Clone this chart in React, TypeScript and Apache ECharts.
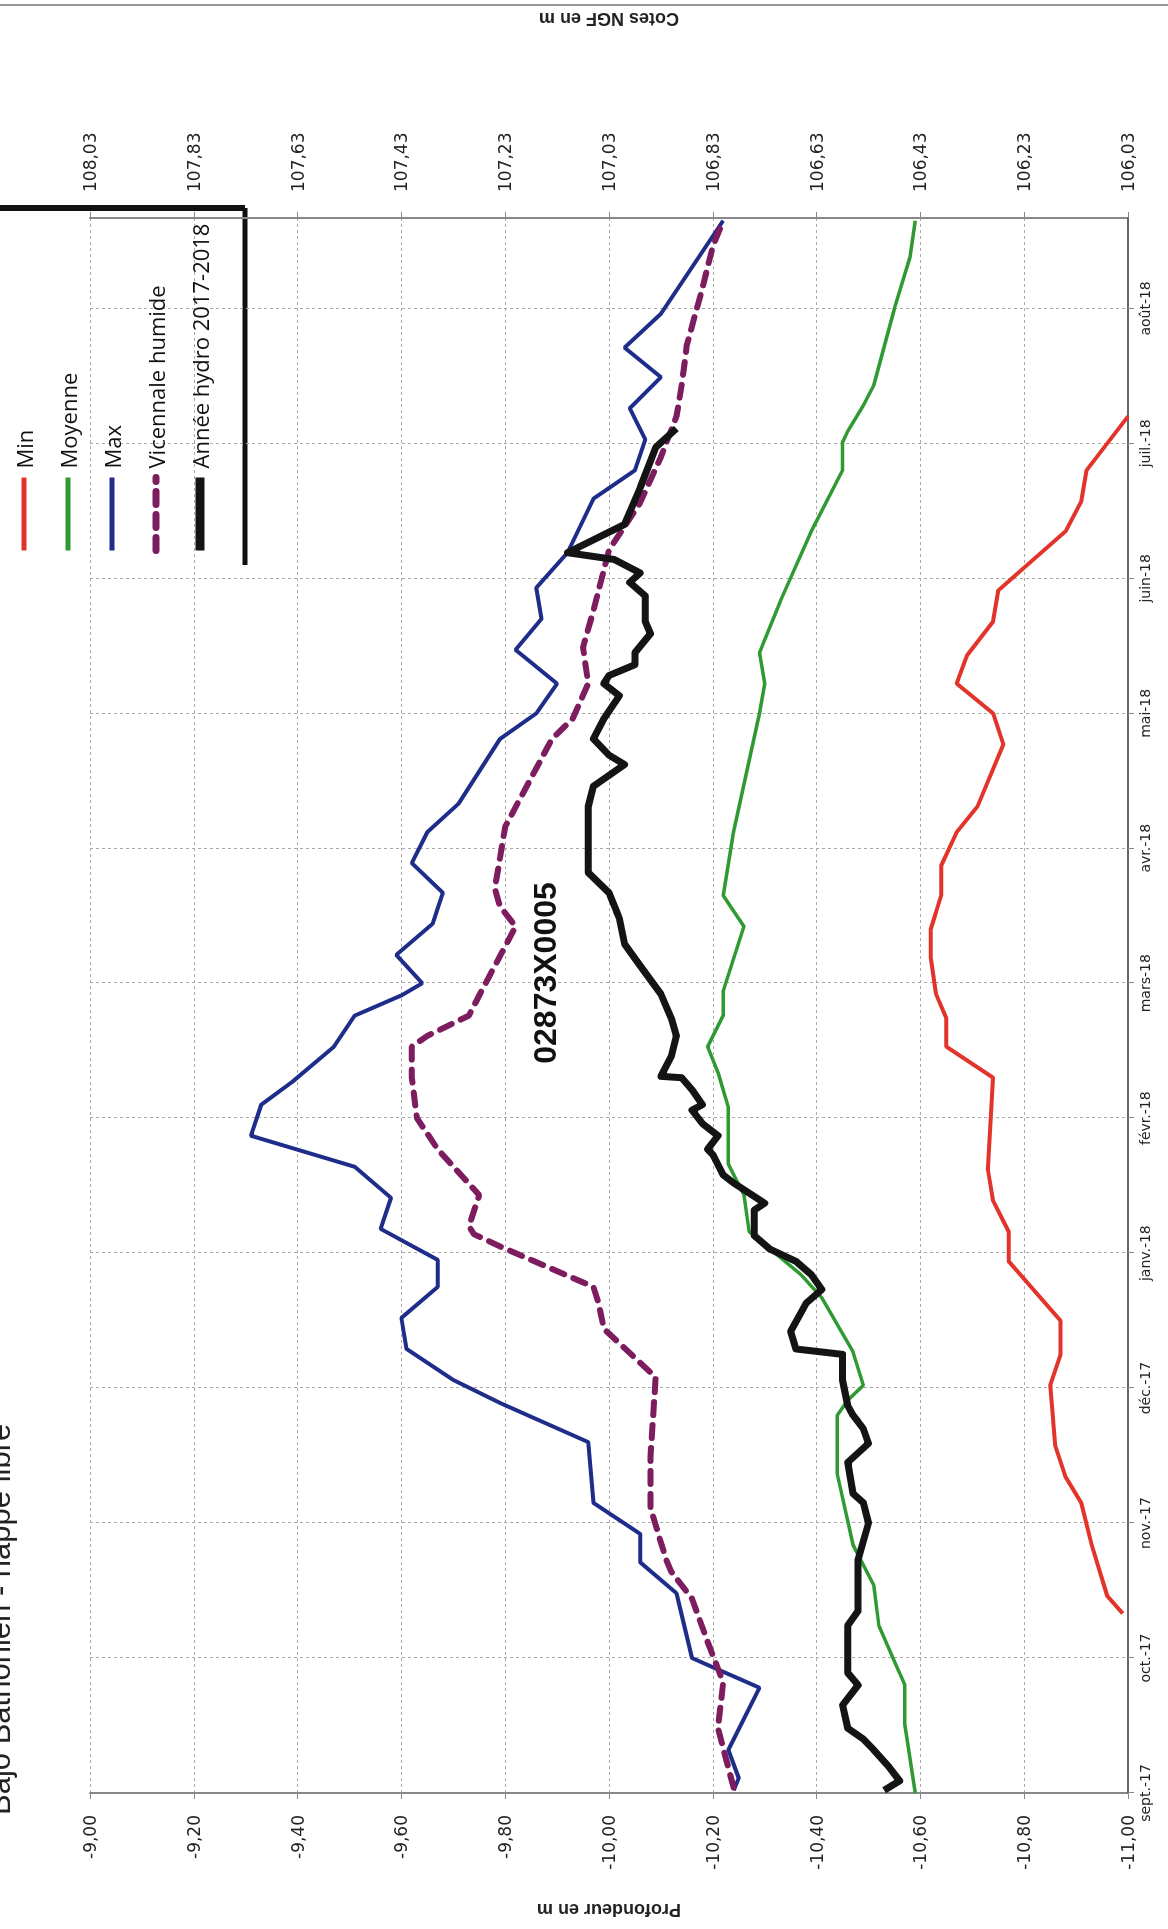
import { useEffect, useRef } from 'react';
import * as echarts from 'echarts';

// the scanned page is rotated: the chart is drawn upright and the div is turned -90deg
const W = 1929;
const H = 1168;

const months = ['sept.-17', 'oct.-17', 'nov.-17', 'déc.-17', 'janv.-18', 'févr.-18', 'mars-18', 'avr.-18', 'mai-18', 'juin-18', 'juil.-18', 'août-18'];

// [month index from 1 sept 2017, depth in m]
const minData = [[1.33,-10.99],[1.46,-10.96],[1.84,-10.93],[2.15,-10.91],[2.34,-10.88],[2.57,-10.86],[3.02,-10.85],[3.25,-10.87],[3.5,-10.87],[3.94,-10.77],[4.16,-10.77],[4.39,-10.74],[4.62,-10.73],[5.3,-10.74],[5.53,-10.65],[5.74,-10.65],[5.92,-10.63],[6.19,-10.62],[6.4,-10.62],[6.65,-10.64],[6.87,-10.64],[7.12,-10.67],[7.31,-10.71],[7.77,-10.76],[8.0,-10.74],[8.22,-10.67],[8.43,-10.69],[8.68,-10.74],[8.91,-10.75],[9.08,-10.8],[9.35,-10.88],[9.57,-10.91],[9.8,-10.92],[10.2,-11.0]];

const moyData = [[0,-10.59],[0.51,-10.57],[0.8,-10.57],[1.24,-10.52],[1.54,-10.51],[1.84,-10.47],[2.36,-10.44],[2.8,-10.44],[2.91,-10.46],[3.02,-10.49],[3.27,-10.47],[3.67,-10.41],[3.84,-10.37],[4.16,-10.27],[4.43,-10.26],[4.66,-10.23],[5.08,-10.23],[5.34,-10.21],[5.53,-10.19],[5.76,-10.22],[5.94,-10.22],[6.42,-10.26],[6.65,-10.22],[7.12,-10.24],[8.0,-10.29],[8.22,-10.3],[8.45,-10.29],[8.83,-10.33],[9.35,-10.39],[9.8,-10.45],[10.01,-10.45],[10.09,-10.46],[10.28,-10.49],[10.43,-10.51],[11.0,-10.55],[11.38,-10.58],[11.65,-10.59]];

const maxData = [[0.02,-10.24],[0.11,-10.25],[0.32,-10.23],[0.78,-10.29],[1.0,-10.16],[1.48,-10.13],[1.71,-10.06],[1.92,-10.06],[2.15,-9.97],[2.6,-9.96],[2.89,-9.79],[3.06,-9.7],[3.29,-9.61],[3.52,-9.6],[3.75,-9.67],[3.95,-9.67],[4.18,-9.56],[4.41,-9.58],[4.64,-9.51],[4.87,-9.31],[5.1,-9.33],[5.27,-9.39],[5.53,-9.47],[5.76,-9.51],[5.91,-9.6],[6.0,-9.64],[6.21,-9.59],[6.44,-9.66],[6.67,-9.68],[6.89,-9.62],[7.12,-9.65],[7.33,-9.71],[7.81,-9.79],[8.0,-9.86],[8.22,-9.9],[8.47,-9.82],[8.7,-9.87],[8.93,-9.86],[9.19,-9.92],[9.59,-9.97],[9.8,-10.05],[10.03,-10.07],[10.26,-10.04],[10.49,-10.1],[10.71,-10.03],[10.96,-10.1],[11.19,-10.14],[11.65,-10.22]];

const vicData = [[0.04,-10.24],[0.48,-10.21],[0.82,-10.22],[1.12,-10.19],[1.44,-10.16],[1.64,-10.12],[1.73,-10.11],[2.11,-10.08],[2.49,-10.08],[3.08,-10.09],[3.44,-9.99],[3.63,-9.98],[3.75,-9.97],[4.05,-9.79],[4.14,-9.74],[4.2,-9.73],[4.43,-9.75],[4.77,-9.67],[5.0,-9.63],[5.3,-9.62],[5.53,-9.62],[5.61,-9.65],[5.76,-9.73],[5.91,-9.75],[6.42,-9.82],[6.57,-9.79],[6.7,-9.78],[7.16,-9.8],[7.81,-9.89],[7.96,-9.93],[8.22,-9.96],[8.49,-9.95],[8.76,-9.97],[9.21,-10.0],[9.56,-10.06],[9.9,-10.1],[10.2,-10.13],[10.43,-10.14],[10.73,-10.15],[11.15,-10.18],[11.46,-10.2],[11.65,-10.22]];

const hydroData = [[0.02,-10.53],[0.09,-10.56],[0.19,-10.54],[0.32,-10.51],[0.4,-10.49],[0.48,-10.46],[0.65,-10.45],[0.8,-10.48],[0.89,-10.46],[1.24,-10.46],[1.35,-10.48],[1.73,-10.48],[2.0,-10.5],[2.15,-10.49],[2.22,-10.47],[2.45,-10.46],[2.59,-10.5],[2.7,-10.49],[2.8,-10.47],[2.87,-10.46],[3.06,-10.45],[3.25,-10.45],[3.29,-10.36],[3.42,-10.35],[3.63,-10.38],[3.73,-10.41],[3.84,-10.39],[3.94,-10.36],[4.03,-10.31],[4.13,-10.28],[4.32,-10.28],[4.37,-10.3],[4.52,-10.24],[4.58,-10.22],[4.73,-10.2],[4.77,-10.19],[4.87,-10.21],[4.96,-10.18],[5.06,-10.16],[5.1,-10.18],[5.21,-10.16],[5.3,-10.14],[5.31,-10.1],[5.46,-10.12],[5.61,-10.13],[5.74,-10.12],[5.92,-10.1],[6.13,-10.06],[6.29,-10.03],[6.48,-10.02],[6.67,-10.0],[6.82,-9.96],[7.0,-9.96],[7.31,-9.96],[7.46,-9.97],[7.62,-10.03],[7.69,-10.0],[7.81,-9.97],[7.96,-9.99],[8.13,-10.02],[8.22,-9.99],[8.28,-10.0],[8.36,-10.05],[8.45,-10.05],[8.59,-10.08],[8.68,-10.07],[8.87,-10.07],[8.97,-10.04],[9.04,-10.06],[9.14,-10.01],[9.19,-9.92],[9.4,-10.03],[9.67,-10.06],[9.97,-10.09],[10.11,-10.13]];

const NGF_OFFSET = 117.03;
const fmt = (v: number) => v.toFixed(2).replace('.', ',');

export default function App() {
  const chartRef = useRef<HTMLDivElement>(null);

  useEffect(() => {
    if (!chartRef.current) return;
    const chart = echarts.init(chartRef.current, undefined, { renderer: 'svg' });

    const grid = { color: '#aaa', type: [3, 3] as number[], width: 1 };
    const valueAxisBase = {
      type: 'value' as const,
      min: -11,
      max: -9,
      interval: 0.2,
      nameLocation: 'middle' as const,
      nameRotate: 90,
      nameTextStyle: { fontFamily: 'Liberation Sans', fontWeight: 'bold' as const, fontSize: 18, color: '#222' },
      axisLine: { show: true, lineStyle: { color: '#888', width: 2 } },
      axisTick: { show: true, length: 6, lineStyle: { color: '#888' } },
    };

    const red = '#e3342b';
    const green = '#2f9a32';
    const blue = '#1f2d8a';
    const purple = '#7d1c5e';
    const black = '#141414';

    chart.setOption({
      animation: false,
      backgroundColor: '#fff',
      grid: { left: 136, right: 218, top: 90, bottom: 40 },
      title: {
        text: '02873X0005',
        left: 951,
        top: 524,
        textAlign: 'center',
        textStyle: { fontFamily: 'Liberation Sans', fontWeight: 'bold', fontSize: 32, color: '#111' },
      },
      legend: {
        orient: 'vertical',
        left: 1369,
        top: 8,
        itemWidth: 73,
        itemHeight: 14,
        itemGap: 22,
        itemStyle: { opacity: 0 },
        textStyle: { fontFamily: 'Open Sans', fontSize: 22, color: '#111', padding: [0, 0, 0, 4] },
        data: [
          { name: 'Min', lineStyle: { width: 5 } },
          { name: 'Moyenne', lineStyle: { width: 5 } },
          { name: 'Max', lineStyle: { width: 5 } },
          { name: 'Vicennale humide', lineStyle: { width: 7 } },
          { name: 'Année hydro 2017-2018', lineStyle: { width: 9 } },
        ],
      },
      xAxis: {
        type: 'value',
        min: 0,
        max: 11.67,
        interval: 1,
        axisLine: { show: true, lineStyle: { color: '#666', width: 2 } },
        axisTick: { show: true, length: 6, lineStyle: { color: '#888' } },
        axisLabel: {
          fontFamily: 'DejaVu Sans',
          fontSize: 14,
          color: '#222',
          margin: 10,
          showMaxLabel: false,
          formatter: (v: number) => months[Math.round(v)] ?? '',
        },
        splitLine: { show: true, lineStyle: grid },
      },
      yAxis: [
        {
          ...valueAxisBase,
          position: 'left',
          name: 'Profondeur en m',
          nameGap: 108,
          axisLabel: { fontFamily: 'DejaVu Sans', fontSize: 17, color: '#222', margin: 22, formatter: fmt },
          splitLine: { show: true, lineStyle: grid },
        },
        {
          ...valueAxisBase,
          position: 'right',
          name: 'Cotes NGF en m',
          nameGap: 190,
          axisLabel: { fontFamily: 'DejaVu Sans', fontSize: 17, color: '#222', margin: 26, formatter: (v: number) => fmt(v + NGF_OFFSET) },
          splitLine: { show: false },
        },
      ],
      series: [
        { name: 'Min', type: 'line', data: minData, symbol: 'none', lineStyle: { color: red, width: 4 }, itemStyle: { color: red } },
        { name: 'Moyenne', type: 'line', data: moyData, symbol: 'none', lineStyle: { color: green, width: 3.5 }, itemStyle: { color: green } },
        { name: 'Max', type: 'line', data: maxData, symbol: 'none', lineStyle: { color: blue, width: 4 }, itemStyle: { color: blue } },
        { name: 'Vicennale humide', type: 'line', data: vicData, symbol: 'none', lineStyle: { color: purple, width: 6, type: [13, 10], cap: 'round' }, itemStyle: { color: purple } },
        { name: 'Année hydro 2017-2018', type: 'line', data: hydroData, symbol: 'none', lineStyle: { color: black, width: 7, join: 'round' }, itemStyle: { color: black } },
      ],
      graphic: [
        {
          type: 'text',
          left: 114,
          top: -16,
          style: { text: 'Bajo Bathonien - nappe libre', fontFamily: 'Liberation Sans', fontSize: 31, fill: '#222' },
        },
        { type: 'line', shape: { x1: 1721, y1: 0, x2: 1721, y2: 245 }, style: { stroke: '#111', lineWidth: 6 } },
        { type: 'line', shape: { x1: 1364, y1: 245, x2: 1721, y2: 245 }, style: { stroke: '#111', lineWidth: 5 } },
        { type: 'line', shape: { x1: 1924, y1: 0, x2: 1924, y2: H }, style: { stroke: '#999', lineWidth: 2 } },
      ],
    });

    return () => chart.dispose();
  }, []);

  return (
    <div
      ref={chartRef}
      style={{
        position: 'fixed',
        left: 0,
        top: 0,
        width: W,
        height: H,
        transformOrigin: '0 0',
        transform: `translateY(${W}px) rotate(-90deg)`,
      }}
    />
  );
}
